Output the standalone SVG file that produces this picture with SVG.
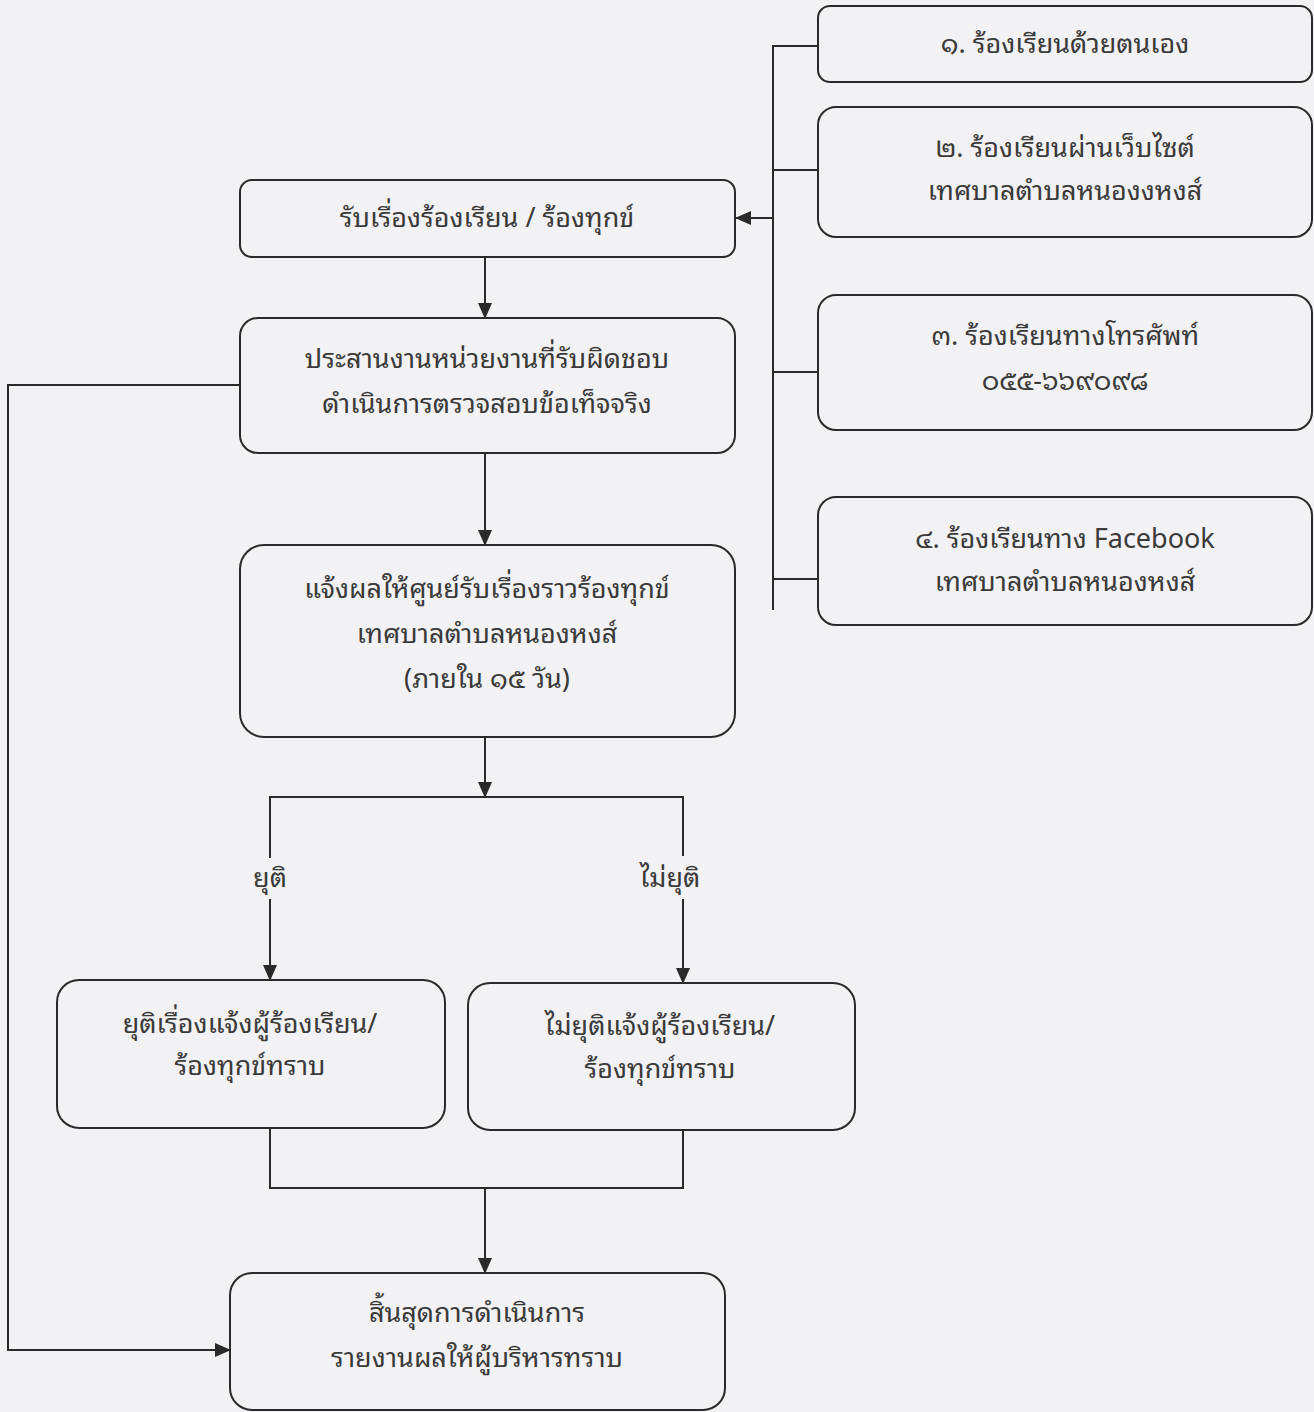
<svg xmlns="http://www.w3.org/2000/svg" width="1314" height="1412" viewBox="0 0 1314 1412">
<style>
.box{fill:none;stroke:#2a2a2a;stroke-width:2}
.ln{fill:none;stroke:#2a2a2a;stroke-width:2}
.t{font-family:"Noto Sans Thai Looped","Noto Sans Thai","Noto Sans","DejaVu Sans",sans-serif;font-size:27px;fill:#3a3a3a;text-anchor:middle}
</style>
<defs>
<marker id="ah" markerWidth="16" markerHeight="14" refX="15" refY="7" orient="auto" markerUnits="userSpaceOnUse" viewBox="0 0 16 14">
<path d="M0,0 L16,7 L0,14 Z" fill="#2a2a2a"/>
</marker>
</defs>
<rect width="1314" height="1412" fill="#f2f1f3"/>
<g id="connectors">
<path class="ln" d="M818,46 H773 V610"/>
<path class="ln" d="M818,170 H773"/>
<path class="ln" d="M818,372 H773"/>
<path class="ln" d="M818,579 H773"/>
<path class="ln" d="M773,218 H736" marker-end="url(#ah)"/>
<path class="ln" d="M485,257 V318" marker-end="url(#ah)"/>
<path class="ln" d="M485,453 V545" marker-end="url(#ah)"/>
<path class="ln" d="M485,737 V797" marker-end="url(#ah)"/>
<path class="ln" d="M270,858 V797 H683 V856"/>
<path class="ln" d="M270,899 V980" marker-end="url(#ah)"/>
<path class="ln" d="M683,899 V983" marker-end="url(#ah)"/>
<path class="ln" d="M270,1128 V1188 H683 V1130"/>
<path class="ln" d="M485,1188 V1273" marker-end="url(#ah)"/>
<path class="ln" d="M240,385 H8 V1350 H230" marker-end="url(#ah)"/>
<text class="t" x="270" y="887">ยุติ</text>
<text class="t" x="670" y="887">ไม่ยุติ</text>
</g>
<g id="n1">
<rect class="box" x="818" y="6" width="494" height="76" rx="12"/>
<text class="t" x="1065" y="53">๑. ร้องเรียนด้วยตนเอง</text>
</g>
<g id="n2">
<rect class="box" x="818" y="107" width="494" height="130" rx="18"/>
<text class="t" x="1065" y="157">๒. ร้องเรียนผ่านเว็บไซต์</text>
<text class="t" x="1065" y="200">เทศบาลตำบลหนองงหงส์</text>
</g>
<g id="n3">
<rect class="box" x="818" y="295" width="494" height="135" rx="18"/>
<text class="t" x="1065" y="345">๓. ร้องเรียนทางโทรศัพท์</text>
<text class="t" x="1065" y="390">๐๕๕-๖๖๙๐๙๘</text>
</g>
<g id="n4">
<rect class="box" x="818" y="497" width="494" height="128" rx="18"/>
<text class="t" x="1065" y="548">๔. ร้องเรียนทาง Facebook</text>
<text class="t" x="1065" y="591">เทศบาลตำบลหนองหงส์</text>
</g>
<g id="a">
<rect class="box" x="240" y="180" width="495" height="77" rx="12"/>
<text class="t" x="487" y="227">รับเรื่องร้องเรียน / ร้องทุกข์</text>
</g>
<g id="b">
<rect class="box" x="240" y="318" width="495" height="135" rx="18"/>
<text class="t" x="487" y="368">ประสานงานหน่วยงานที่รับผิดชอบ</text>
<text class="t" x="487" y="413">ดำเนินการตรวจสอบข้อเท็จจริง</text>
</g>
<g id="c">
<rect class="box" x="240" y="545" width="495" height="192" rx="24"/>
<text class="t" x="487" y="598">แจ้งผลให้ศูนย์รับเรื่องราวร้องทุกข์</text>
<text class="t" x="487" y="643">เทศบาลตำบลหนองหงส์</text>
<text class="t" x="487" y="688">(ภายใน ๑๕ วัน)</text>
</g>
<g id="d">
<rect class="box" x="57" y="980" width="388" height="148" rx="22"/>
<text class="t" x="250" y="1033">ยุติเรื่องแจ้งผู้ร้องเรียน/</text>
<text class="t" x="250" y="1075">ร้องทุกข์ทราบ</text>
</g>
<g id="e">
<rect class="box" x="468" y="983" width="387" height="147" rx="22"/>
<text class="t" x="660" y="1035">ไม่ยุติแจ้งผู้ร้องเรียน/</text>
<text class="t" x="660" y="1078">ร้องทุกข์ทราบ</text>
</g>
<g id="f">
<rect class="box" x="230" y="1273" width="495" height="137" rx="22"/>
<text class="t" x="477" y="1322">สิ้นสุดการดำเนินการ</text>
<text class="t" x="477" y="1367">รายงานผลให้ผู้บริหารทราบ</text>
</g>
</svg>
